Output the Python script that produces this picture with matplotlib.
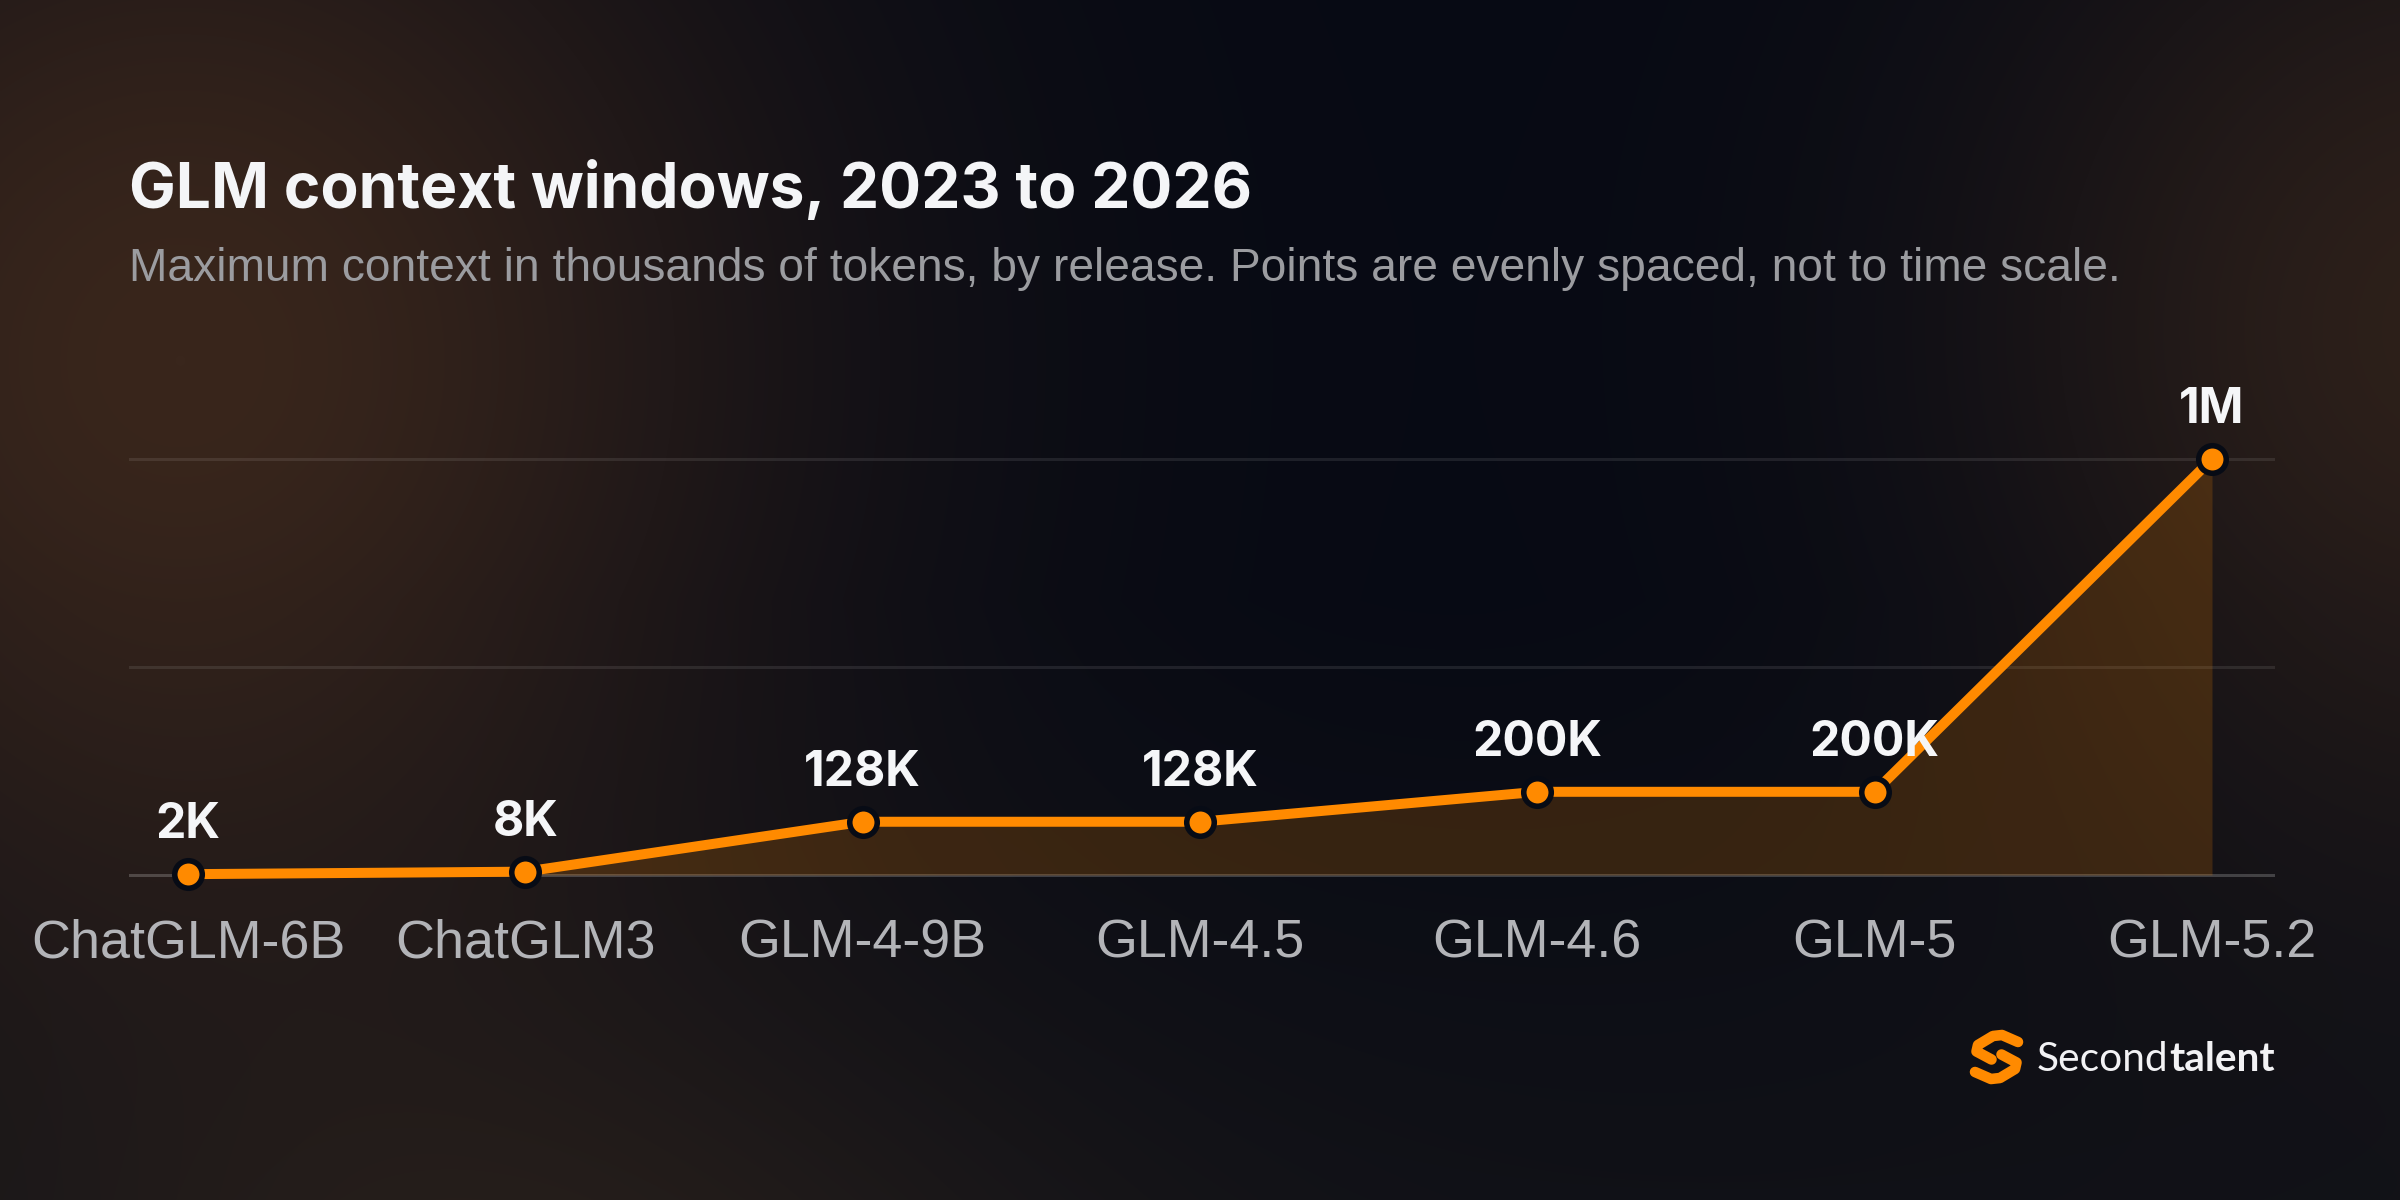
import numpy as np
import matplotlib
matplotlib.use("Agg")
import matplotlib.pyplot as plt

# ---------------- data ----------------
models = ["ChatGLM-6B", "ChatGLM3", "GLM-4-9B", "GLM-4.5", "GLM-4.6", "GLM-5", "GLM-5.2"]
context_k = [2, 8, 128, 128, 200, 200, 1000]
value_labels = ["2K", "8K", "128K", "128K", "200K", "200K", "1M"]
grid_values = [0, 500, 1000]

title = "GLM context windows, 2023 to 2026"
subtitle = "Maximum context in thousands of tokens, by release. Points are evenly spaced, not to time scale."

ORANGE = "#ff8a00"
BG = np.array([7, 10, 20]) / 255.0

W, H = 2400, 1200
fig = plt.figure(figsize=(12, 6), dpi=200)

# ---------------- background ----------------
yy, xx = np.mgrid[0:H, 0:W].astype(float)
img = np.ones((H, W, 3)) * BG

def glow(cx, cy, sx, sy, col):
    g = np.exp(-(((xx - cx) / sx) ** 2 + ((yy - cy) / sy) ** 2) / 2.0)
    return g[..., None] * (np.array(col) / 255.0)

img += glow(180, 360, 420, 430, (50, 28, 8))
img += glow(2460, 330, 340, 360, (38, 22, 6))
img += glow(550, 1330, 380, 240, (18, 11, 3))
vert = np.clip((yy - 600) / 600.0, 0, 1)[..., None] * (np.array([9, 7, 3]) / 255.0)
img += vert
img = np.clip(img, 0, 1)

bg = fig.add_axes([0, 0, 1, 1], zorder=-10)
bg.imshow(img, extent=[0, W, H, 0], aspect="auto", interpolation="bilinear")
bg.set_xlim(0, W)
bg.set_ylim(H, 0)
bg.axis("off")

# ---------------- main axes ----------------
x = np.arange(len(models))
px_per_unit = (2212 - 188) / (len(models) - 1)
left_px, right_px, top_px, bot_px = 130, 2273, 459, 875
ax = fig.add_axes([left_px / W, 1 - bot_px / H, (right_px - left_px) / W, (bot_px - top_px) / H])
ax.patch.set_alpha(0)
ax.set_xlim(-(188 - left_px) / px_per_unit, (len(models) - 1) + (right_px - 2212) / px_per_unit)
ax.set_ylim(grid_values[0], grid_values[-1])
for s in ax.spines.values():
    s.set_visible(False)
ax.set_yticks([])

for gv in grid_values:
    a = 0.20 if gv == grid_values[0] else 0.09
    ax.axhline(gv, color="white", alpha=a, lw=1.1, zorder=1, clip_on=False)

ax.fill_between(x, context_k, 0, color=ORANGE, alpha=0.18, lw=0, zorder=2)
ax.plot(x, context_k, color=ORANGE, lw=3.6, marker="o", ms=9.9, mfc=ORANGE,
        mec="#070b15", mew=2.0, clip_on=False, zorder=4, solid_joinstyle="round")

for xi, v, lab in zip(x, context_k, value_labels):
    ax.annotate(lab, xy=(xi, v), xytext=(0, 36 * 0.36), textcoords="offset points",
                ha="center", va="baseline", fontsize=17.3, fontweight="bold",
                fontfamily="Inter", color="#f5f6f8", zorder=5, annotation_clip=False)

ax.set_xticks(x)
ax.set_xticklabels(models, fontfamily="Liberation Sans", fontsize=19.4, color="#b3b4b8")
ax.tick_params(axis="x", length=0, pad=82 * 0.36)
for t in ax.get_xticklabels():
    t.set_va("baseline")

# ---------------- titles ----------------
renderer = fig.canvas.get_renderer()

def fit(t, target):
    w = t.get_window_extent(renderer).width
    t.set_fontsize(t.get_fontsize() * target / w)

t1 = fig.text(129 / W, 1 - 208 / H, title, fontsize=23.4, fontweight="bold",
              fontfamily="Inter", color="#f4f5f7", ha="left", va="baseline")
fit(t1, 1123)
t2 = fig.text(129 / W, 1 - 281 / H, subtitle, fontsize=16.5,
              fontfamily="Liberation Sans", color="#9b9ca0", ha="left", va="baseline")
fit(t2, 1991)

# ---------------- logo ----------------
top_hook = [(2018.0, 1042.0), (2002.0, 1035.0), (1993.0, 1036.0), (1978.0, 1045.0),
            (1976.5, 1051.5), (1991.5, 1059.5)]
cx, cy = 1996.5, 1057.0
bot_hook = [(2 * cx - px, 2 * cy - py) for px, py in top_hook]
for hook in (top_hook, bot_hook):
    hx, hy = zip(*hook)
    bg.plot(hx, hy, color=ORANGE, lw=3.8, solid_capstyle="round", solid_joinstyle="round")

s1 = bg.text(2037, 1071, "Second", fontsize=14, fontfamily="Lato", color="#f2f2f4",
             ha="left", va="baseline")
s2 = bg.text(0, 1071, "talent", fontsize=14, fontfamily="Lato", fontweight="bold",
             color="#f2f2f4", ha="left", va="baseline")
w1 = s1.get_window_extent(renderer).width
s2.set_x(2037 + w1 + 1)
w2 = s2.get_window_extent(renderer).width
scale = 237 / (w1 + w2)
s1.set_fontsize(14 * scale)
s2.set_fontsize(14 * scale)
w1 = s1.get_window_extent(renderer).width
s2.set_x(2037 + w1 + 1)

fig.savefig("out.png", dpi=200)
